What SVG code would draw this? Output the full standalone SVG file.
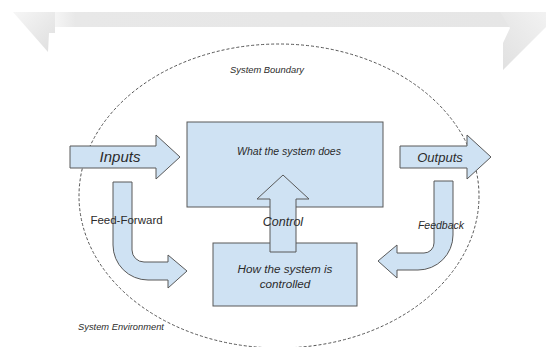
<svg xmlns="http://www.w3.org/2000/svg" width="546" height="347" viewBox="0 0 546 347">
<defs>
<linearGradient id="bandG" x1="0" y1="0" x2="1" y2="0">
<stop offset="0" stop-color="#ffffff"/>
<stop offset="0.07" stop-color="#e8e8e8"/>
<stop offset="0.93" stop-color="#e6e6e6"/>
<stop offset="1" stop-color="#f0f0f0"/>
</linearGradient>
<linearGradient id="curlL" x1="0" y1="0" x2="1" y2="1">
<stop offset="0" stop-color="#f6f6f6"/>
<stop offset="1" stop-color="#dedede"/>
</linearGradient>
<linearGradient id="curlR" x1="1" y1="0" x2="0" y2="1">
<stop offset="0" stop-color="#f2f2f2"/>
<stop offset="1" stop-color="#e0e0e0"/>
</linearGradient>
<style>
.box{fill:#cfe2f3;stroke:#595959;stroke-width:1}
.arr{fill:#cfe2f3;stroke:#595959;stroke-width:1;stroke-linejoin:miter}
.t{font-family:"Liberation Sans",Arial,sans-serif;fill:#2b2b2b;text-anchor:middle}
.i{font-style:italic}
</style>
</defs>
<rect width="546" height="347" fill="#ffffff"/>
<g id="decoration">
<rect x="40" y="12" width="506" height="15" fill="url(#bandG)"/>
<polygon points="13,12 55,12 55,33 49,33 48,52" fill="url(#curlL)"/>
<polygon points="500,12 546,12 546,27 503,70 503,43 510,28" fill="url(#curlR)"/>
</g>
<g id="system-boundary">
<ellipse cx="279" cy="196" rx="200" ry="152" fill="none" stroke="#555555" stroke-width="1" stroke-dasharray="3,2"/>
<text class="t i" x="267" y="73" font-size="9.4">System Boundary</text>
</g>
<g id="system-environment">
<text class="t i" x="121" y="330" font-size="9.3">System Environment</text>
</g>
<g id="what">
<rect class="box" x="187" y="122" width="196" height="85"/>
<text class="t i" x="289" y="155" font-size="10.5">What the system does</text>
</g>
<g id="how">
<rect class="box" x="213" y="243" width="144" height="63"/>
<text class="t i" x="285" y="273" font-size="11.7">How the system is</text>
<text class="t i" x="285" y="288" font-size="11.7">controlled</text>
</g>
<g id="connectors">
<g id="inputs">
<polygon class="arr" points="70,146 156,146 156,135 180,157 156,179 156,168 70,168"/>
<text class="t i" x="120" y="162" font-size="15">Inputs</text>
</g>
<g id="outputs">
<polygon class="arr" points="400,146 467,146 467,135 491,157 467,179 467,168 400,168"/>
<text class="t i" x="440" y="162" font-size="13">Outputs</text>
</g>
<g id="control">
<polygon class="arr" points="270,252 270,199 257,199 283,175 309,199 296,199 296,252"/>
<text class="t i" x="283" y="226" font-size="12.5">Control</text>
</g>
<g id="feed-forward">
<path class="arr" d="M113,182 H132 V250 A12,12 0 0 0 144,262 H168 V255 L187,271 L168,288 V280 H148 A35,35 0 0 1 113,245 Z"/>
<text class="t" x="126.5" y="224" font-size="11.5">Feed-Forward</text>
</g>
<g id="feedback">
<path class="arr" d="M434,181 H453 V235 A35,35 0 0 1 418,270 H397 V278 L378,261 L397,245 V253 H424 A10,10 0 0 0 434,243 Z"/>
<text class="t i" x="441" y="229" font-size="10.5">Feedback</text>
</g>
</g>
</svg>
